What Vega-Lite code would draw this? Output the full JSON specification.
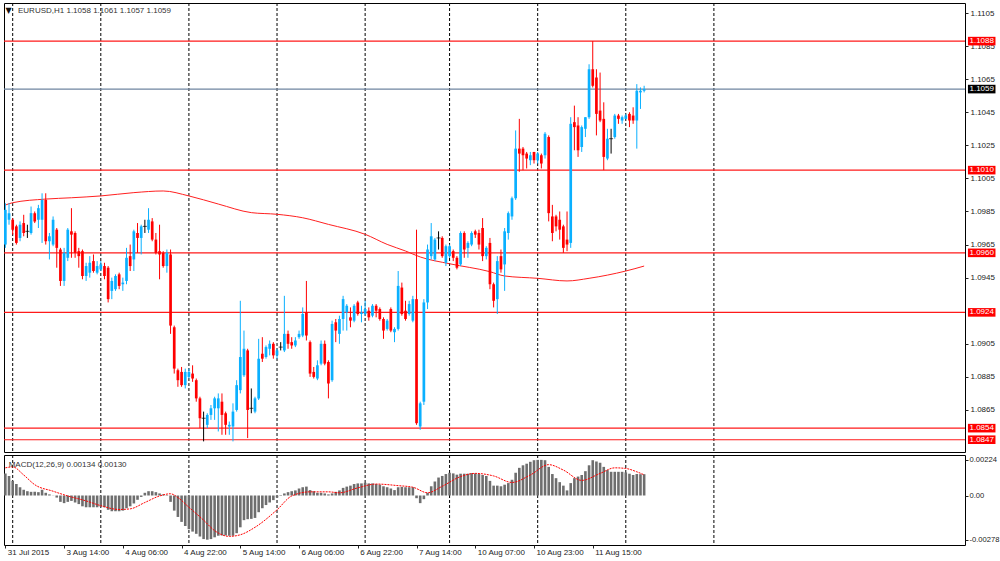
{
"$schema": "https://vega.github.io/schema/vega-lite/v6.json",
"background": "white",
"padding": {"left": 2, "top": 2, "right": 0, "bottom": 0},
"spacing": 1,
"config": {
 "view": {"stroke": "#000", "strokeWidth": 1},
 "scale": {"continuousPadding": 0},
 "axis": {"grid": false, "domain": false, "labelFont": "Liberation Sans", "labelFontSize": 8, "labelColor": "#222", "tickColor": "#222", "labelOverlap": false, "labelFlush": false, "labelBound": false},
 "text": {"font": "Liberation Sans", "fontSize": 8}
},
"datasets": {
 "bars": [
{"i":0,"o":1.0965,"h":1.0990,"l":1.0963,"c":1.0986,"m":0.00139},
{"i":1,"o":1.0980,"h":1.0990,"l":1.0977,"c":1.0984,"m":0.00123},
{"i":2,"o":1.0980,"h":1.0981,"l":1.0971,"c":1.0974,"m":0.00092},
{"i":3,"o":1.0976,"h":1.0977,"l":1.0965,"c":1.0966,"m":0.00072},
{"i":4,"o":1.0969,"h":1.0979,"l":1.0967,"c":1.0977,"m":0.00052},
{"i":5,"o":1.0978,"h":1.0983,"l":1.0970,"c":1.0972,"m":0.00036},
{"i":6,"o":1.0973,"h":1.0977,"l":1.0969,"c":1.0973,"m":0.00027},
{"i":7,"o":1.0972,"h":1.0988,"l":1.0971,"c":1.0984,"m":0.00023},
{"i":8,"o":1.0984,"h":1.0985,"l":1.0978,"c":1.0979,"m":0.00023},
{"i":9,"o":1.0980,"h":1.0989,"l":1.0975,"c":1.0987,"m":0.00021},
{"i":10,"o":1.0980,"h":1.0996,"l":1.0966,"c":1.0992,"m":0.00036},
{"i":11,"o":1.0992,"h":1.0996,"l":1.0965,"c":1.0967,"m":0.00017},
{"i":12,"o":1.0967,"h":1.0972,"l":1.0956,"c":1.0970,"m":0.00007},
{"i":13,"o":1.0965,"h":1.0982,"l":1.0964,"c":1.0980,"m":0.00001},
{"i":14,"o":1.0974,"h":1.0975,"l":1.0951,"c":1.0963,"m":-0.00013},
{"i":15,"o":1.0962,"h":1.0963,"l":1.0940,"c":1.0943,"m":-0.0004},
{"i":16,"o":1.0943,"h":1.0963,"l":1.0940,"c":1.0960,"m":-0.00048},
{"i":17,"o":1.0957,"h":1.0975,"l":1.0955,"c":1.0974,"m":-0.0004},
{"i":18,"o":1.0973,"h":1.0987,"l":1.0957,"c":1.0971,"m":-0.00034},
{"i":19,"o":1.0972,"h":1.0973,"l":1.0957,"c":1.0960,"m":-0.00044},
{"i":20,"o":1.0961,"h":1.0963,"l":1.0951,"c":1.0958,"m":-0.00054},
{"i":21,"o":1.0961,"h":1.0962,"l":1.0944,"c":1.0946,"m":-0.00068},
{"i":22,"o":1.0946,"h":1.0954,"l":1.0943,"c":1.0952,"m":-0.00074},
{"i":23,"o":1.0948,"h":1.0958,"l":1.0945,"c":1.0954,"m":-0.00074},
{"i":24,"o":1.0955,"h":1.0959,"l":1.0948,"c":1.0949,"m":-0.00074},
{"i":25,"o":1.0948,"h":1.0955,"l":1.0947,"c":1.0952,"m":-0.00074},
{"i":26,"o":1.0950,"h":1.0955,"l":1.0949,"c":1.0953,"m":-0.0007},
{"i":27,"o":1.0952,"h":1.0954,"l":1.0944,"c":1.0946,"m":-0.00074},
{"i":28,"o":1.0951,"h":1.0952,"l":1.0930,"c":1.0932,"m":-0.0009},
{"i":29,"o":1.0937,"h":1.0945,"l":1.0932,"c":1.0943,"m":-0.00099},
{"i":30,"o":1.0938,"h":1.0947,"l":1.0937,"c":1.0946,"m":-0.00099},
{"i":31,"o":1.0947,"h":1.0948,"l":1.0938,"c":1.0940,"m":-0.00099},
{"i":32,"o":1.0941,"h":1.0945,"l":1.0937,"c":1.0942,"m":-0.00095},
{"i":33,"o":1.0943,"h":1.0963,"l":1.0941,"c":1.0957,"m":-0.0008},
{"i":34,"o":1.0958,"h":1.0965,"l":1.0949,"c":1.0952,"m":-0.00068},
{"i":35,"o":1.0956,"h":1.0974,"l":1.0949,"c":1.0973,"m":-0.0005},
{"i":36,"o":1.0972,"h":1.0978,"l":1.0960,"c":1.0969,"m":-0.00027},
{"i":37,"o":1.0969,"h":1.0977,"l":1.0959,"c":1.0976,"m":-0.00009},
{"i":38,"o":1.0976,"h":1.0980,"l":1.0972,"c":1.0976,"m":0.00017},
{"i":39,"o":1.0974,"h":1.0987,"l":1.0972,"c":1.0980,"m":0.00027},
{"i":40,"o":1.0979,"h":1.0981,"l":1.0967,"c":1.0968,"m":0.00027},
{"i":41,"o":1.0968,"h":1.0972,"l":1.0959,"c":1.0960,"m":0.00021},
{"i":42,"o":1.0961,"h":1.0977,"l":1.0944,"c":1.0959,"m":0.00013},
{"i":43,"o":1.0960,"h":1.0961,"l":1.0951,"c":1.0952,"m":0.00007},
{"i":44,"o":1.0952,"h":1.0962,"l":1.0948,"c":1.0960,"m":0.00003},
{"i":45,"o":1.0959,"h":1.0962,"l":1.0911,"c":1.0916,"m":-0.0004},
{"i":46,"o":1.0915,"h":1.0916,"l":1.0887,"c":1.0890,"m":-0.00095},
{"i":47,"o":1.0889,"h":1.0890,"l":1.0879,"c":1.0883,"m":-0.00135},
{"i":48,"o":1.0888,"h":1.0891,"l":1.0879,"c":1.0880,"m":-0.00166},
{"i":49,"o":1.0880,"h":1.0890,"l":1.0878,"c":1.0888,"m":-0.00192},
{"i":50,"o":1.0885,"h":1.0890,"l":1.0884,"c":1.0888,"m":-0.00212},
{"i":51,"o":1.0887,"h":1.0892,"l":1.0882,"c":1.0884,"m":-0.00227},
{"i":52,"o":1.0883,"h":1.0884,"l":1.0870,"c":1.0872,"m":-0.00241},
{"i":53,"o":1.0872,"h":1.0873,"l":1.0854,"c":1.0860,"m":-0.00258},
{"i":54,"o":1.0860,"h":1.0864,"l":1.0846,"c":1.0860,"m":-0.00274},
{"i":55,"o":1.0856,"h":1.0863,"l":1.0854,"c":1.0862,"m":-0.00278},
{"i":56,"o":1.0862,"h":1.0868,"l":1.0859,"c":1.0866,"m":-0.00274},
{"i":57,"o":1.0866,"h":1.0873,"l":1.0859,"c":1.0872,"m":-0.00263},
{"i":58,"o":1.0866,"h":1.0875,"l":1.0852,"c":1.0872,"m":-0.00253},
{"i":59,"o":1.0870,"h":1.0875,"l":1.0850,"c":1.0862,"m":-0.00251},
{"i":60,"o":1.0863,"h":1.0864,"l":1.0850,"c":1.0856,"m":-0.00251},
{"i":61,"o":1.0855,"h":1.0858,"l":1.0850,"c":1.0856,"m":-0.00253},
{"i":62,"o":1.0855,"h":1.0869,"l":1.0846,"c":1.0864,"m":-0.00253},
{"i":63,"o":1.0865,"h":1.0883,"l":1.0864,"c":1.0880,"m":-0.00237},
{"i":64,"o":1.0877,"h":1.0931,"l":1.0875,"c":1.0897,"m":-0.002},
{"i":65,"o":1.0886,"h":1.0913,"l":1.0885,"c":1.0902,"m":-0.00155},
{"i":66,"o":1.0901,"h":1.0902,"l":1.0848,"c":1.0865,"m":-0.00149},
{"i":67,"o":1.0866,"h":1.0878,"l":1.0863,"c":1.0866,"m":-0.00147},
{"i":68,"o":1.0864,"h":1.0873,"l":1.0863,"c":1.0872,"m":-0.00141},
{"i":69,"o":1.0872,"h":1.0908,"l":1.0871,"c":1.0896,"m":-0.00105},
{"i":70,"o":1.0899,"h":1.0909,"l":1.0894,"c":1.0896,"m":-0.0008},
{"i":71,"o":1.0897,"h":1.0904,"l":1.0896,"c":1.0903,"m":-0.0006},
{"i":72,"o":1.0902,"h":1.0907,"l":1.0898,"c":1.0905,"m":-0.00044},
{"i":73,"o":1.0905,"h":1.0906,"l":1.0896,"c":1.0898,"m":-0.00029},
{"i":74,"o":1.0898,"h":1.0902,"l":1.0896,"c":1.0901,"m":-0.00013},
{"i":75,"o":1.0903,"h":1.0906,"l":1.0901,"c":1.0903,"m":0.00003},
{"i":76,"o":1.0901,"h":1.0934,"l":1.0900,"c":1.0911,"m":0.00013},
{"i":77,"o":1.0911,"h":1.0913,"l":1.0902,"c":1.0905,"m":0.00021},
{"i":78,"o":1.0906,"h":1.0909,"l":1.0902,"c":1.0904,"m":0.00027},
{"i":79,"o":1.0904,"h":1.0909,"l":1.0903,"c":1.0907,"m":0.00032},
{"i":80,"o":1.0909,"h":1.0913,"l":1.0908,"c":1.0911,"m":0.00044},
{"i":81,"o":1.0910,"h":1.0927,"l":1.0909,"c":1.0923,"m":0.00052},
{"i":82,"o":1.0924,"h":1.0943,"l":1.0907,"c":1.0910,"m":0.00056},
{"i":83,"o":1.0906,"h":1.0907,"l":1.0885,"c":1.0887,"m":0.00034},
{"i":84,"o":1.0888,"h":1.0891,"l":1.0884,"c":1.0885,"m":0.00027},
{"i":85,"o":1.0884,"h":1.0895,"l":1.0883,"c":1.0892,"m":0.00017},
{"i":86,"o":1.0893,"h":1.0907,"l":1.0892,"c":1.0905,"m":0.00017},
{"i":87,"o":1.0905,"h":1.0907,"l":1.0892,"c":1.0893,"m":0.00013},
{"i":88,"o":1.0894,"h":1.0895,"l":1.0872,"c":1.0881,"m":0.00007},
{"i":89,"o":1.0883,"h":1.0919,"l":1.0882,"c":1.0917,"m":0.00013},
{"i":90,"o":1.0918,"h":1.0920,"l":1.0906,"c":1.0913,"m":0.00023},
{"i":91,"o":1.0911,"h":1.0922,"l":1.0905,"c":1.0920,"m":0.00032},
{"i":92,"o":1.0920,"h":1.0934,"l":1.0913,"c":1.0932,"m":0.00048},
{"i":93,"o":1.0924,"h":1.0929,"l":1.0913,"c":1.0928,"m":0.00056},
{"i":94,"o":1.0921,"h":1.0927,"l":1.0915,"c":1.0919,"m":0.00062},
{"i":95,"o":1.0919,"h":1.0929,"l":1.0918,"c":1.0928,"m":0.00072},
{"i":96,"o":1.0930,"h":1.0931,"l":1.0922,"c":1.0923,"m":0.00076},
{"i":97,"o":1.0923,"h":1.0928,"l":1.0918,"c":1.0924,"m":0.00076},
{"i":98,"o":1.0923,"h":1.0931,"l":1.0922,"c":1.0926,"m":0.0008},
{"i":99,"o":1.0925,"h":1.0927,"l":1.0919,"c":1.0921,"m":0.00076},
{"i":100,"o":1.0922,"h":1.0929,"l":1.0921,"c":1.0928,"m":0.00076},
{"i":101,"o":1.0928,"h":1.0929,"l":1.0921,"c":1.0925,"m":0.00072},
{"i":102,"o":1.0926,"h":1.0927,"l":1.0919,"c":1.0920,"m":0.00068},
{"i":103,"o":1.0920,"h":1.0921,"l":1.0908,"c":1.0913,"m":0.00058},
{"i":104,"o":1.0914,"h":1.0920,"l":1.0913,"c":1.0919,"m":0.00052},
{"i":105,"o":1.0926,"h":1.0927,"l":1.0912,"c":1.0913,"m":0.00044},
{"i":106,"o":1.0912,"h":1.0915,"l":1.0906,"c":1.0914,"m":0.00034},
{"i":107,"o":1.0914,"h":1.0949,"l":1.0913,"c":1.0940,"m":0.00052},
{"i":108,"o":1.0939,"h":1.0942,"l":1.0922,"c":1.0923,"m":0.00054},
{"i":109,"o":1.0925,"h":1.0931,"l":1.0919,"c":1.0920,"m":0.00052},
{"i":110,"o":1.0923,"h":1.0931,"l":1.0922,"c":1.0929,"m":0.00052},
{"i":111,"o":1.0919,"h":1.0934,"l":1.0918,"c":1.0932,"m":0.00052},
{"i":112,"o":1.0932,"h":1.0974,"l":1.0856,"c":1.0857,"m":-0.00017},
{"i":113,"o":1.0855,"h":1.0870,"l":1.0853,"c":1.0869,"m":-0.00048},
{"i":114,"o":1.0870,"h":1.0932,"l":1.0868,"c":1.0930,"m":-0.00023},
{"i":115,"o":1.0930,"h":1.0965,"l":1.0926,"c":1.0962,"m":0.00017},
{"i":116,"o":1.0958,"h":1.0978,"l":1.0956,"c":1.0970,"m":0.00058},
{"i":117,"o":1.0956,"h":1.0969,"l":1.0955,"c":1.0968,"m":0.00088},
{"i":118,"o":1.0969,"h":1.0973,"l":1.0962,"c":1.0969,"m":0.00113},
{"i":119,"o":1.0969,"h":1.0970,"l":1.0957,"c":1.0958,"m":0.00123},
{"i":120,"o":1.0954,"h":1.0965,"l":1.0952,"c":1.0964,"m":0.00135},
{"i":121,"o":1.0958,"h":1.0965,"l":1.0957,"c":1.0964,"m":0.00143},
{"i":122,"o":1.0961,"h":1.0962,"l":1.0955,"c":1.0957,"m":0.00139},
{"i":123,"o":1.0957,"h":1.0958,"l":1.0950,"c":1.0951,"m":0.00131},
{"i":124,"o":1.0953,"h":1.0973,"l":1.0952,"c":1.0972,"m":0.00137},
{"i":125,"o":1.0972,"h":1.0973,"l":1.0957,"c":1.0962,"m":0.00137},
{"i":126,"o":1.0963,"h":1.0967,"l":1.0957,"c":1.0966,"m":0.00137},
{"i":127,"o":1.0965,"h":1.0973,"l":1.0964,"c":1.0972,"m":0.00141},
{"i":128,"o":1.0973,"h":1.0974,"l":1.0969,"c":1.0971,"m":0.00139},
{"i":129,"o":1.0972,"h":1.0974,"l":1.0962,"c":1.0965,"m":0.00135},
{"i":130,"o":1.0975,"h":1.0981,"l":1.0955,"c":1.0958,"m":0.00129},
{"i":131,"o":1.0958,"h":1.0964,"l":1.0956,"c":1.0963,"m":0.00123},
{"i":132,"o":1.0966,"h":1.0969,"l":1.0938,"c":1.0941,"m":0.00092},
{"i":133,"o":1.0941,"h":1.0942,"l":1.0927,"c":1.0931,"m":0.00062},
{"i":134,"o":1.0932,"h":1.0958,"l":1.0923,"c":1.0955,"m":0.00062},
{"i":135,"o":1.0958,"h":1.0962,"l":1.0948,"c":1.0950,"m":0.00058},
{"i":136,"o":1.0953,"h":1.0975,"l":1.0937,"c":1.0973,"m":0.00068},
{"i":137,"o":1.0972,"h":1.0985,"l":1.0968,"c":1.0984,"m":0.00078},
{"i":138,"o":1.0982,"h":1.0994,"l":1.0980,"c":1.0993,"m":0.00099},
{"i":139,"o":1.0993,"h":1.1034,"l":1.0992,"c":1.1023,"m":0.00143},
{"i":140,"o":1.1023,"h":1.1041,"l":1.1009,"c":1.1020,"m":0.00174},
{"i":141,"o":1.1023,"h":1.1024,"l":1.1010,"c":1.1019,"m":0.0019},
{"i":142,"o":1.1020,"h":1.1021,"l":1.1011,"c":1.1017,"m":0.002},
{"i":143,"o":1.1016,"h":1.1021,"l":1.1013,"c":1.1019,"m":0.00212},
{"i":144,"o":1.1021,"h":1.1021,"l":1.1014,"c":1.1016,"m":0.00222},
{"i":145,"o":1.1016,"h":1.1021,"l":1.1014,"c":1.1020,"m":0.00224},
{"i":146,"o":1.1019,"h":1.1020,"l":1.1011,"c":1.1014,"m":0.00224},
{"i":147,"o":1.1019,"h":1.1033,"l":1.1017,"c":1.1032,"m":0.00222},
{"i":148,"o":1.1030,"h":1.1031,"l":1.0979,"c":1.0984,"m":0.0018},
{"i":149,"o":1.0982,"h":1.0989,"l":1.0967,"c":1.0972,"m":0.00135},
{"i":150,"o":1.0982,"h":1.0983,"l":1.0973,"c":1.0976,"m":0.00109},
{"i":151,"o":1.0980,"h":1.0985,"l":1.0968,"c":1.0974,"m":0.00084},
{"i":152,"o":1.0976,"h":1.0977,"l":1.0960,"c":1.0963,"m":0.00062},
{"i":153,"o":1.0968,"h":1.0985,"l":1.0961,"c":1.0965,"m":0.00032},
{"i":154,"o":1.0966,"h":1.1042,"l":1.0963,"c":1.1038,"m":0.00078},
{"i":155,"o":1.1039,"h":1.1049,"l":1.1022,"c":1.1036,"m":0.00109},
{"i":156,"o":1.1037,"h":1.1042,"l":1.1018,"c":1.1022,"m":0.00119},
{"i":157,"o":1.1024,"h":1.1037,"l":1.1021,"c":1.1036,"m":0.00129},
{"i":158,"o":1.1035,"h":1.1042,"l":1.1030,"c":1.1042,"m":0.00153},
{"i":159,"o":1.1042,"h":1.1074,"l":1.1041,"c":1.1071,"m":0.0019},
{"i":160,"o":1.1071,"h":1.1088,"l":1.1060,"c":1.1061,"m":0.00222},
{"i":161,"o":1.1066,"h":1.1071,"l":1.1031,"c":1.1044,"m":0.00214},
{"i":162,"o":1.1046,"h":1.1069,"l":1.1039,"c":1.1040,"m":0.00206},
{"i":163,"o":1.1041,"h":1.1051,"l":1.1010,"c":1.1018,"m":0.0018},
{"i":164,"o":1.1017,"h":1.1035,"l":1.1016,"c":1.1029,"m":0.0016},
{"i":165,"o":1.1029,"h":1.1035,"l":1.1020,"c":1.1029,"m":0.00149},
{"i":166,"o":1.1030,"h":1.1044,"l":1.1029,"c":1.1043,"m":0.00149},
{"i":167,"o":1.1043,"h":1.1044,"l":1.1038,"c":1.1041,"m":0.00149},
{"i":168,"o":1.1040,"h":1.1043,"l":1.1038,"c":1.1042,"m":0.00149},
{"i":169,"o":1.1041,"h":1.1044,"l":1.1041,"c":1.1043,"m":0.00145},
{"i":170,"o":1.1044,"h":1.1045,"l":1.1036,"c":1.1040,"m":0.00137},
{"i":171,"o":1.1043,"h":1.1048,"l":1.1038,"c":1.1040,"m":0.00129},
{"i":172,"o":1.1040,"h":1.1062,"l":1.1023,"c":1.1058,"m":0.00135},
{"i":173,"o":1.1057,"h":1.1060,"l":1.1047,"c":1.1058,"m":0.00134},
{"i":174,"o":1.1058,"h":1.1061,"l":1.1057,"c":1.1059,"m":0.00134}
 ],
 "ma": [
{"i":0,"v":1.09889},{"i":2,"v":1.09903},{"i":11,"v":1.09925},{"i":18,"v":1.09933},{"i":26,"v":1.09944},{"i":35,"v":1.09964},{"i":43,"v":1.09974},{"i":50,"v":1.09944},{"i":58,"v":1.09895},{"i":67,"v":1.09843},{"i":74,"v":1.09833},{"i":81,"v":1.09812},{"i":88,"v":1.09772},{"i":98,"v":1.09712},{"i":104,"v":1.09651},{"i":109,"v":1.09611},{"i":113,"v":1.09575},{"i":121,"v":1.09534},{"i":132,"v":1.09486},{"i":136,"v":1.0946},{"i":145,"v":1.09446},{"i":153,"v":1.0943},{"i":159,"v":1.09446},{"i":169,"v":1.0949},{"i":174,"v":1.0952}
 ],
 "sig": [
{"i":0,"s":0.00174},{"i":2,"s":0.0018},{"i":5,"s":0.00129},{"i":8,"s":0.00068},{"i":13,"s":0.00027},{"i":17,"s":-0.00003},{"i":22,"s":-0.00034},{"i":26,"s":-0.00064},{"i":31,"s":-0.00088},{"i":34,"s":-0.00084},{"i":38,"s":-0.00044},{"i":42,"s":-0.00003},{"i":45,"s":0.00011},{"i":47,"s":-0.00013},{"i":50,"s":-0.00074},{"i":54,"s":-0.00155},{"i":57,"s":-0.00221},{"i":61,"s":-0.00257},{"i":64,"s":-0.00247},{"i":68,"s":-0.002},{"i":74,"s":-0.0009},{"i":78,"s":-0.00003},{"i":83,"s":0.00023},{"i":88,"s":0.00023},{"i":91,"s":0.00017},{"i":96,"s":0.00048},{"i":101,"s":0.00072},{"i":107,"s":0.00062},{"i":111,"s":0.00052},{"i":115,"s":0.00017},{"i":119,"s":0.00058},{"i":124,"s":0.00119},{"i":128,"s":0.00139},{"i":133,"s":0.00123},{"i":138,"s":0.00082},{"i":143,"s":0.00129},{"i":148,"s":0.00194},{"i":152,"s":0.0016},{"i":157,"s":0.00095},{"i":162,"s":0.00139},{"i":166,"s":0.00174},{"i":169,"s":0.0017},{"i":172,"s":0.00149},{"i":174,"s":0.0013}
 ],
 "levels": [
{"p":1.1088,"lab":"1.1088","kind":"line"},
{"p":1.1010,"lab":"1.1010","kind":"line"},
{"p":1.0960,"lab":"1.0960","kind":"line"},
{"p":1.0924,"lab":"1.0924","kind":"line"},
{"p":1.0854,"lab":"1.0854","kind":"line"},
{"p":1.0847,"lab":"1.0847","kind":"line"},
{"p":1.1059,"lab":"1.1059","kind":"bid"}
 ],
 "seps": [{"i":2},{"i":26},{"i":50},{"i":74},{"i":98},{"i":121},{"i":145},{"i":169},{"i":193}]
},
"vconcat": [
 {
  "width": 961, "height": 449,
  "layer": [
   {"data": {"name": "seps"}, "mark": {"type": "rule", "strokeDash": [3, 2], "color": "#000", "strokeWidth": 1},
    "encoding": {"x": {"field": "i", "type": "quantitative", "scale": {"domain": [-0.37, 261.4], "nice": false, "zero": false, "padding": 0}, "axis": null}}},
   {"data": {"name": "levels"}, "mark": {"type": "rule", "strokeWidth": 1.2},
    "encoding": {
     "y": {"field": "p", "type": "quantitative", "title": null, "scale": {"domain": [1.083958, 1.111105], "nice": false, "zero": false, "padding": 0},
       "axis": {"orient": "right", "values": [1.1105,1.1085,1.1065,1.1045,1.1025,1.1005,1.0985,1.0965,1.0945,1.0905,1.0885,1.0865], "format": ".4f", "tickSize": 3, "labelPadding": 2, "labelOverlap": false}},
     "color": {"condition": {"test": "datum.kind == 'bid'", "value": "#6F85A0"}, "value": "#FF1A1A"}}},
   {"data": {"name": "ma"}, "mark": {"type": "line", "color": "#FF2020", "strokeWidth": 1, "interpolate": "monotone"},
    "encoding": {"x": {"field": "i", "type": "quantitative"}, "y": {"field": "v", "type": "quantitative", "title": null}}},
   {"data": {"name": "bars"}, "mark": {"type": "rule", "strokeWidth": 1},
    "encoding": {"x": {"field": "i", "type": "quantitative"}, "y": {"field": "l", "type": "quantitative", "title": null}, "y2": {"field": "h"},
     "color": {"condition": [{"test": "datum.c > datum.o", "value": "#0AB0FF"}, {"test": "datum.c < datum.o", "value": "#FF0000"}], "value": "#000000"}}},
   {"data": {"name": "bars"}, "mark": {"type": "bar", "size": 2.7},
    "encoding": {"x": {"field": "i", "type": "quantitative"}, "y": {"field": "o", "type": "quantitative", "title": null}, "y2": {"field": "c"},
     "color": {"condition": [{"test": "datum.c > datum.o", "value": "#0AB0FF"}, {"test": "datum.c < datum.o", "value": "#FF0000"}], "value": "#000000"}}},
   {"data": {"name": "bars"}, "transform": [{"filter": "datum.o == datum.c"}], "mark": {"type": "tick", "orient": "horizontal", "color": "#000", "thickness": 1, "size": 4},
    "encoding": {"x": {"field": "i", "type": "quantitative"}, "y": {"field": "o", "type": "quantitative", "title": null}}},
   {"data": {"name": "levels"}, "transform": [{"calculate": "datum.p + 0.00026", "as": "pt"}, {"calculate": "datum.p - 0.00026", "as": "pb"}],
    "mark": {"type": "rect"},
    "encoding": {"x": {"datum": 262.2}, "x2": {"datum": 269.7}, "y": {"field": "pt", "type": "quantitative", "title": null}, "y2": {"field": "pb"},
     "color": {"condition": {"test": "datum.kind == 'bid'", "value": "#000000"}, "value": "#FF0000"}}},
   {"data": {"name": "levels"}, "mark": {"type": "text", "color": "#FFFFFF", "align": "center", "baseline": "middle", "fontSize": 8},
    "encoding": {"x": {"datum": 265.95}, "y": {"field": "p", "type": "quantitative", "title": null}, "text": {"field": "lab"}}},
   {"data": {"values": [{}]}, "mark": {"type": "text", "font": "DejaVu Sans", "fontSize": 8, "color": "#111", "align": "center", "baseline": "middle"},
    "encoding": {"x": {"datum": 0.86}, "y": {"datum": 1.11062}, "text": {"value": "▼"}}},
   {"data": {"values": [{}]}, "mark": {"type": "text", "fontSize": 8, "color": "#333", "align": "left", "baseline": "middle"},
    "encoding": {"x": {"datum": 3.44}, "y": {"datum": 1.11062}, "text": {"value": "EURUSD,H1  1.1058 1.1061 1.1057 1.1059"}}}
  ]
 },
 {
  "width": 961, "height": 90,
  "layer": [
   {"data": {"name": "seps"}, "mark": {"type": "rule", "strokeDash": [3, 2], "color": "#000", "strokeWidth": 1},
    "encoding": {"x": {"field": "i", "type": "quantitative", "title": null, "scale": {"domain": [-0.37, 261.4], "nice": false, "zero": false, "padding": 0},
     "axis": {"orient": "bottom", "values": [0,16,32,48,64,80,96,112,128,144,160], "tickSize": 3, "labelAlign": "left", "labelOffset": 2, "labelPadding": 0,
      "labelExpr": "['31 Jul 2015','3 Aug 14:00','4 Aug 06:00','4 Aug 22:00','5 Aug 14:00','6 Aug 06:00','6 Aug 22:00','7 Aug 14:00','10 Aug 07:00','10 Aug 23:00','11 Aug 15:00'][round(datum.value/16)]"}}}},
   {"data": {"name": "bars"}, "mark": {"type": "bar", "size": 2.6, "color": "#6E6E6E"},
    "encoding": {"x": {"field": "i", "type": "quantitative"},
     "y": {"field": "m", "type": "quantitative", "title": null, "scale": {"domain": [-0.003113, 0.002547], "nice": false, "zero": false, "padding": 0},
      "axis": {"orient": "right", "values": [0.00224, 0, -0.00278], "tickSize": 3, "labelPadding": 1, "labelFontSize": 7.6, "labelOverlap": false, "labelExpr": "datum.value == 0 ? '0.00' : replace(format(datum.value, '.5f'), '\u2212', '-')"}},
     "y2": {"datum": 0}}},
   {"data": {"name": "sig"}, "mark": {"type": "line", "color": "#FF0000", "strokeWidth": 1, "strokeDash": [2, 1], "interpolate": "monotone"},
    "encoding": {"x": {"field": "i", "type": "quantitative"}, "y": {"field": "s", "type": "quantitative", "title": null}}},
   {"data": {"values": [{}]}, "mark": {"type": "text", "fontSize": 8, "color": "#333", "align": "left", "baseline": "middle"},
    "encoding": {"x": {"datum": 0.91}, "y": {"datum": 0.00194}, "text": {"value": "MACD(12,26,9) 0.00134 0.00130"}}}
  ]
 }
]
}
